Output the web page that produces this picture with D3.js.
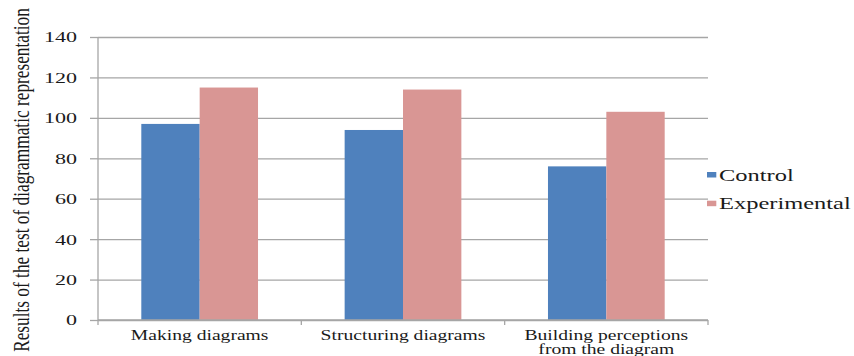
<!DOCTYPE html>
<html>
<head>
<meta charset="utf-8">
<script src="https://cdn.jsdelivr.net/npm/d3@7"></script>
<style>
  html, body { margin: 0; padding: 0; background: #fff; }
  svg { display: block; }
  text { font-family: "Liberation Serif", "Times New Roman", Times, "DejaVu Serif", serif; fill: #1a1a1a; }
</style>
</head>
<body>
<svg id="chart" width="854" height="356"></svg>
<script>
// ---- data ----
const categories = ["Making diagrams", "Structuring diagrams", "Building perceptions\nfrom the diagram"];
const seriesNames = ["Control", "Experimental"];
const control = [97, 94, 76];
const experimental = [115, 114, 103];
const yTicks = [0, 20, 40, 60, 80, 100, 120, 140];
const yTitle = "Results of the test of diagrammatic representation";

// ---- layout ----
const plotL = 98, plotR = 708, plotT = 37, plotB = 320;
const colors = { Control: "#4F81BD", Experimental: "#D99694" };
const gridColor = "#a6a6a6";

const svg = d3.select("#chart");

const x = d3.scaleBand().domain(categories).range([plotL, plotR]).paddingInner(0).paddingOuter(0);
const y = d3.scaleLinear().domain([0, 140]).range([plotB, plotT]);
const barW = x.bandwidth() * 0.287;
const xInner = d3.scaleBand().domain(seriesNames).range([0, 2 * barW]);
const innerOffset = (x.bandwidth() - 2 * barW) / 2;

// gridlines
const grid = svg.append("g").attr("transform", `translate(${plotL},0)`)
  .call(d3.axisLeft(y).tickValues(yTicks).tickSize(-(plotR - plotL)).tickFormat(""));
grid.select(".domain").remove();
grid.selectAll(".tick line").attr("stroke", gridColor).attr("stroke-width", 1.3);

// bars
const rows = categories.map((c, i) => ({ cat: c, vals: [
  { s: "Control", v: control[i] },
  { s: "Experimental", v: experimental[i] }
]}));

const groups = svg.append("g").selectAll("g").data(rows).join("g")
  .attr("transform", d => `translate(${x(d.cat) + innerOffset},0)`);
groups.selectAll("rect").data(d => d.vals).join("rect")
  .attr("x", d => xInner(d.s))
  .attr("width", xInner.bandwidth())
  .attr("y", d => y(d.v))
  .attr("height", d => y(0) - y(d.v))
  .attr("fill", d => colors[d.s]);

// y axis
const yAxis = svg.append("g").attr("transform", `translate(${plotL},0)`)
  .call(d3.axisLeft(y).tickValues(yTicks).tickSize(8).tickPadding(6.3).tickFormat(d3.format("d")));
yAxis.attr("font-family", null);
yAxis.select(".domain").attr("stroke", gridColor).attr("stroke-width", 1.3)
  .attr("d", `M0,${plotT}V${plotB}`);
yAxis.selectAll(".tick line").attr("stroke", gridColor).attr("stroke-width", 1.3);
yAxis.selectAll(".tick text")
  .attr("font-size", 15)
  .attr("fill", "#1a1a1a")
  .attr("dy", "0.33em")
  .attr("transform", "scale(1.47,1)");

// x axis
const xAxisG = svg.append("g").attr("transform", `translate(0,${plotB})`);
xAxisG.append("line").attr("x1", plotL).attr("x2", plotR).attr("y1", 0).attr("y2", 0)
  .attr("stroke", gridColor).attr("stroke-width", 1.3);
const bounds = categories.map(c => x(c)).concat([plotR]);
xAxisG.selectAll("line.tk").data(bounds).join("line").attr("class", "tk")
  .attr("x1", d => d).attr("x2", d => d).attr("y1", 0).attr("y2", 5)
  .attr("stroke", gridColor).attr("stroke-width", 1.3);

const labs = svg.append("g").selectAll("g").data(categories).join("g")
  .attr("transform", d => `translate(${x(d) + x.bandwidth() / 2},339.5) scale(1.4,1)`);
labs.each(function(d) {
  const lines = d.split("\n");
  const t = d3.select(this).append("text").attr("text-anchor", "middle").attr("font-size", 14);
  lines.forEach((ln, i) => {
    t.append("tspan").attr("x", 0).attr("y", i * 14.5).text(ln);
  });
});

// y title
svg.append("text")
  .attr("transform", "translate(29.3,180) scale(1.37,1) rotate(-90)")
  .attr("text-anchor", "middle")
  .attr("font-size", 17.3)
  .text(yTitle);

// legend
const legend = svg.append("g").selectAll("g").data(seriesNames).join("g")
  .attr("transform", (d, i) => `translate(707,${172 + i * 28.7})`);
legend.append("rect").attr("x", 0).attr("y", 0).attr("width", 9.3).attr("height", 5.5)
  .attr("fill", d => colors[d]);
legend.append("text")
  .attr("transform", "translate(12,8.7) scale(1.53,1)")
  .attr("font-size", 16)
  .text(d => d);
</script>
</body>
</html>
